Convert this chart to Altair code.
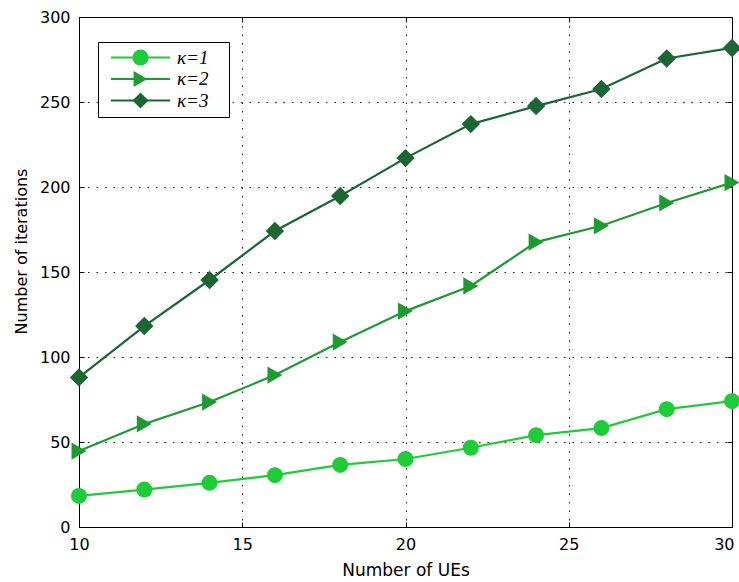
import altair as alt
import pandas as pd

ues = [10, 12, 14, 16, 18, 20, 22, 24, 26, 28, 30]
k1 = [18.3, 22.0, 26.0, 30.5, 36.5, 40.0, 46.6, 54.0, 58.2, 69.3, 74.0]
k2 = [44.7, 60.6, 73.5, 89.4, 108.8, 127.0, 141.8, 167.6, 177.2, 190.6, 202.6]
k3 = [88.0, 118.2, 145.3, 174.1, 194.7, 217.0, 237.0, 247.6, 257.6, 275.6, 281.8]
series_names = ["κ=1", "κ=2", "κ=3"]
colors = ["#1ecc38", "#1f9a33", "#1b6633"]
shapes = ["circle", "triangle-right", "diamond"]
marker_sizes = [256, 340, 270]
x_ticks = [10, 15, 20, 25, 30]
y_ticks = [0, 50, 100, 150, 200, 250, 300]

rows = []
for name, vals in zip(series_names, [k1, k2, k3]):
    for x, v in zip(ues, vals):
        rows.append({"UEs": x, "iters": v, "series": name})
df = pd.DataFrame(rows)

xscale = alt.Scale(domain=[10, 30], nice=False)
yscale = alt.Scale(domain=[0, 300], nice=False)
cscale = alt.Scale(domain=series_names, range=colors)
sscale = alt.Scale(domain=series_names, range=shapes)
zscale = alt.Scale(domain=series_names, range=marker_sizes)

inward = {"expr": "-5"}
FONT = "DejaVu Sans"

grid_common = dict(grid=True, gridColor="#000000", gridDash=[1.5, 7], gridWidth=1,
                   gridOpacity=0.9, domainColor="#000000", tickColor="#000000",
                   ticks=True, tickSize=inward, tickWidth=1, labelFlush=False,
                   labelFont=FONT, labelFontSize=16, labelColor="#000000",
                   titleFont=FONT, titleFontWeight="normal", titleColor="#000000")

x_bottom = alt.Axis(
    values=x_ticks, title="Number of UEs", labelPadding=14,
    labelAlign={"condition": {"test": "datum.value == 30", "value": "right"}, "value": "center"},
    labelOffset={"condition": {"test": "datum.value == 30", "value": 2}, "value": 0},
    titleY=48, titleBaseline="alphabetic", titleFontSize=17, **grid_common)
y_left = alt.Axis(values=y_ticks, title="Number of iterations", labelPadding=14,
                  titleX=-58, titleY=234, titleAngle=-90, titleAlign="center",
                  titleBaseline="middle", titleFontSize=16, **grid_common)

legend_common = dict(
    title=None, orient="none", legendX=19, legendY=25, padding=6,
    labelFont="Liberation Serif", labelFontSize=19, labelFontStyle="italic",
    labelExpr="datum.label + '\u2800'",
    symbolSize=256, rowPadding=1.5, symbolOffset=27, labelOffset=27,
)
line_legend = alt.Legend(
    symbolType="M-3.7,0H3.7", symbolStrokeWidth=2.2,
    fillColor="#ffffff", strokeColor="#000000", labelColor="#000000",
    zindex=1, **legend_common,
)
point_legend = alt.Legend(
    fillColor="transparent", strokeColor="transparent", labelColor="transparent",
    symbolStrokeWidth=1, zindex=2, **legend_common,
)

lines = alt.Chart(df).mark_line(strokeWidth=2.2).encode(
    x=alt.X("UEs:Q", scale=xscale, axis=x_bottom),
    y=alt.Y("iters:Q", scale=yscale, axis=y_left),
    color=alt.Color("series:N", scale=cscale, legend=line_legend),
    detail="series:N",
)
points = alt.Chart(df).mark_point(filled=True, opacity=1, strokeWidth=1).encode(
    x=alt.X("UEs:Q", scale=xscale,
            axis=alt.Axis(orient="top", values=x_ticks, labels=False, title=None,
                          grid=False, domainColor="#000000", tickColor="#000000",
                          tickSize=inward)),
    y=alt.Y("iters:Q", scale=yscale,
            axis=alt.Axis(orient="right", values=y_ticks, labels=False, title=None,
                          grid=False, domainColor="#000000", tickColor="#000000",
                          tickSize=inward)),
    color=alt.Color("series:N", scale=cscale, legend=point_legend),
    shape=alt.Shape("series:N", scale=sscale, legend=point_legend),
    size=alt.Size("series:N", scale=zscale, legend=None),
)
chart = alt.layer(lines, points).resolve_axis(
    x="independent", y="independent"
).resolve_legend(
    color="independent", shape="independent"
).properties(
    width=653, height=510,
    autosize=alt.AutoSizeParams(type="none"),
    padding={"left": 79, "top": 17, "right": 7, "bottom": 55},
).configure_view(stroke="#000000", strokeWidth=1).configure(background="#ffffff")

chart.save("out.html", embed_options={"renderer": "svg", "actions": False})
